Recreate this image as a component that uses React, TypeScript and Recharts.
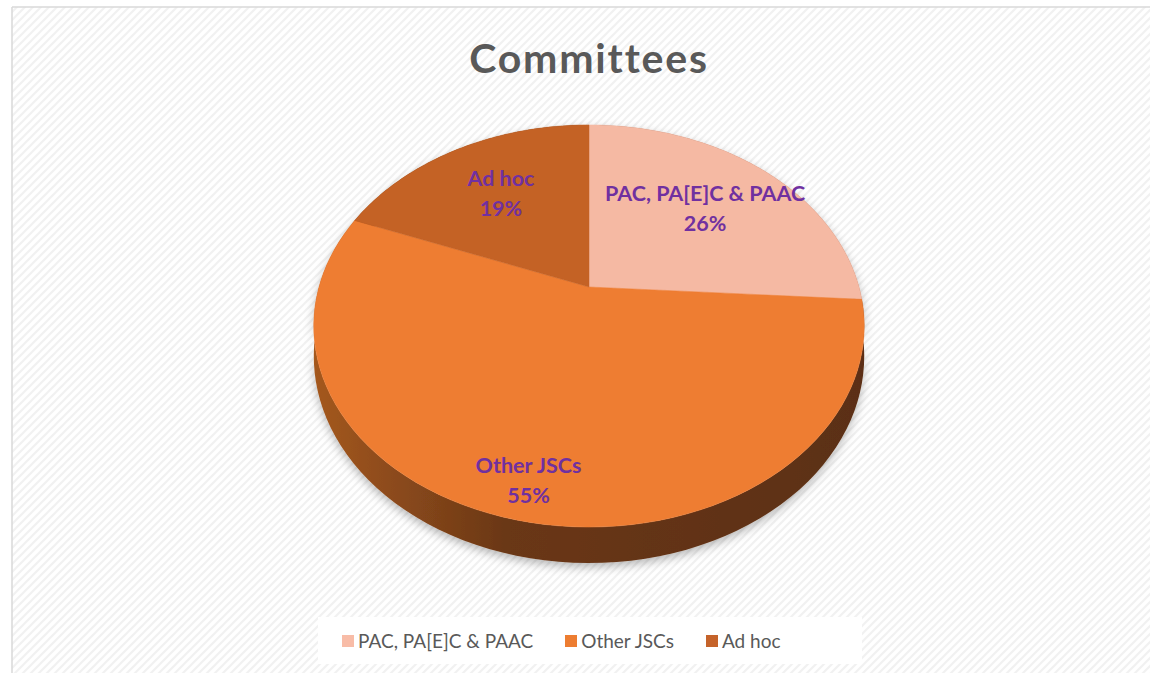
import React from "react";
import { PieChart, Pie, Cell } from "recharts";

// slices of the committees pie, in percent
const categories = ["PAC, PA[E]C & PAAC", "Other JSCs", "Ad hoc"];
const shares = [26, 55, 19];
const topColors = ["#F5B9A3", "#EE7D32", "#C46225"];
const legendColors = ["#F8BCA7", "#ED7D31", "#C5632A"];
const sideColors = ["#9C6A58", "url(#sideGrad)", "#6E3412"];

const data = categories.map((name, i) => ({ name, value: shares[i] }));

const W = 1150;
const H = 673;
const CX = 589;
const CY = 287;
const R = 270;
const TILT = 0.7167; // vertical squash of the tilted disc
const PERSP = 0.194; // far side drawn smaller than near side
const DEPTH = 29;

// project a point of the flat disc (u right, v away from viewer) to the screen
function project(cx: number, cy: number, r: number, u: number, v: number) {
  const w = 1 + PERSP * v;
  return [cx + (r * u) / w, cy - (r * TILT * v) / w];
}

function arcPoints(p: any, drop = 0) {
  const { cx, cy, outerRadius, startAngle, endAngle } = p;
  const steps = 80;
  const pts: number[][] = [];
  for (let i = 0; i <= steps; i++) {
    const a = ((startAngle + ((endAngle - startAngle) * i) / steps) * Math.PI) / 180;
    const u = Math.cos(a);
    const v = Math.sin(a);
    const [x, y] = project(cx, cy, outerRadius, u, v);
    pts.push([x, y + (drop * DEPTH) / (1 + PERSP * v)]);
  }
  return pts;
}

const TopFace = (p: any) => {
  const pts = arcPoints(p);
  const d =
    `M${p.cx},${p.cy} ` + pts.map((q) => `L${q[0].toFixed(2)},${q[1].toFixed(2)}`).join(" ") + " Z";
  return <path d={d} fill={p.fill} stroke={p.fill} strokeWidth={0.5} />;
};

const SideWall = (p: any) => {
  const top = arcPoints(p);
  const bottom = arcPoints(p, 1).reverse();
  const d =
    "M" + [...top, ...bottom].map((q) => `${q[0].toFixed(2)},${q[1].toFixed(2)}`).join(" L") + " Z";
  return <path d={d} fill={p.fill} filter="url(#pieShadow)" />;
};

const renderLabel = (p: any) => {
  const a = (p.midAngle * Math.PI) / 180;
  const f = p.value > 50 ? 0.86 : 0.64;
  const [x, y] = project(p.cx, p.cy, p.outerRadius, f * Math.cos(a), f * Math.sin(a));
  return (
    <text
      x={x}
      y={y}
      textAnchor="middle"
      fill="#7030A0"
      fontFamily="Lato, 'Open Sans', sans-serif"
      fontWeight={700}
      fontSize={21.5}
    >
      <tspan x={x} dy={-8}>
        {p.name}
      </tspan>
      <tspan x={x} dy={30}>
        {p.value}%
      </tspan>
    </text>
  );
};

export default function App() {
  return (
    <div style={{ position: "absolute", left: 0, top: 0, width: W, height: H, background: "#fff" }}>
      {/* background pattern, frame and title */}
      <svg width={W} height={H} style={{ position: "absolute", left: 0, top: 0 }}>
        <defs>
          <pattern id="weave" width="8" height="8" patternUnits="userSpaceOnUse">
            <rect width="8" height="8" fill="#ffffff" />
            <path d="M0,8 L8,0 M-2,2 L2,-2 M6,10 L10,6" stroke="#f1f1f1" strokeWidth="2" />
          </pattern>
        </defs>
        <rect x={12} y={7} width={W - 12} height={H - 7} fill="url(#weave)" />
        <line x1={12} y1={7} x2={W} y2={7} stroke="#d9d9d9" strokeWidth={1.5} />
        <line x1={12} y1={7} x2={12} y2={H} stroke="#d9d9d9" strokeWidth={1.5} />
        <text
          x={589}
          y={73}
          textAnchor="middle"
          fill="#595959"
          fontFamily="Lato, 'Open Sans', sans-serif"
          fontWeight={700}
          fontSize={41}
          letterSpacing={1.8}
        >
          Committees
        </text>
        <rect x={318} y={617} width={544} height={47} fill="#ffffff" />
      </svg>

      <div style={{ position: "absolute", left: 0, top: 0 }}>
        <PieChart width={W} height={H} margin={{ top: 0, right: 0, bottom: 0, left: 0 }}>
          <defs>
            <linearGradient id="sideGrad" x1="0" y1="0" x2="1" y2="0">
              <stop offset="0%" stopColor="#A4581F" />
              <stop offset="35%" stopColor="#6A3716" />
              <stop offset="100%" stopColor="#5B2F13" />
            </linearGradient>
            <filter id="pieShadow" x="-10%" y="-10%" width="120%" height="130%">
              <feDropShadow dx="0" dy="4" stdDeviation="5" floodColor="#000" floodOpacity="0.28" />
            </filter>
          </defs>
          <Pie
            data={data}
            dataKey="value"
            nameKey="name"
            cx={CX}
            cy={CY}
            outerRadius={R}
            startAngle={90}
            endAngle={-270}
            stroke="none"
            shape={SideWall}
            isAnimationActive={false}
          >
            {data.map((d, i) => (
              <Cell key={d.name} fill={sideColors[i]} />
            ))}
          </Pie>
          <Pie
            data={data}
            dataKey="value"
            nameKey="name"
            cx={CX}
            cy={CY}
            outerRadius={R}
            startAngle={90}
            endAngle={-270}
            stroke="none"
            shape={TopFace}
            label={renderLabel}
            labelLine={false}
            isAnimationActive={false}
          >
            {data.map((d, i) => (
              <Cell key={d.name} fill={topColors[i]} />
            ))}
          </Pie>
        </PieChart>
      </div>

      {/* legend */}
      <div
        style={{
          position: "absolute",
          left: 342,
          top: 629,
          display: "flex",
          alignItems: "center",
          fontFamily: "Lato, 'Open Sans', sans-serif",
          fontSize: 19,
          color: "#595959",
          whiteSpace: "nowrap",
        }}
      >
        {categories.map((c, i) => (
          <div key={c} style={{ display: "flex", alignItems: "center", marginRight: 32 }}>
            <span
              style={{ width: 12, height: 12, background: legendColors[i], marginRight: 4, display: "inline-block" }}
            />
            {c}
          </div>
        ))}
      </div>
    </div>
  );
}
